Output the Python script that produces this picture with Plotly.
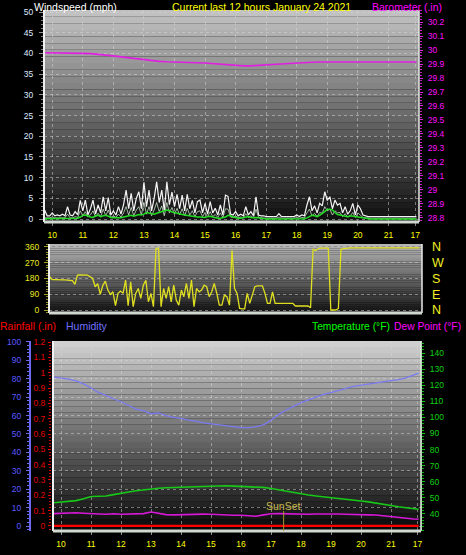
import plotly.graph_objects as go

# ---------------- data ----------------
# 5-minute samples starting at 9:45 (hour values)
T5_START = 9.75
T5_STEP = 5 / 60

wind_gust = [
    2.2, 0.8, 0.8,  # 9:45-9:55
    1.5, 0.8, 1.0, 0.8, 1.2, 0.8, 3.0, 1.0, 0.8, 1.8, 1.0, 4.5,  # 10
    2.0, 4.6, 1.0, 2.5, 4.6, 1.2, 3.4, 1.5, 5.4, 2.0, 5.2, 1.0,  # 11
    2.0, 1.0, 3.0, 1.2, 3.5, 7.0, 2.5, 6.2, 2.0, 5.0, 6.6, 2.5,  # 12
    8.9, 3.0, 7.0, 2.0, 5.0, 9.0, 4.0, 7.0, 2.0, 9.0, 3.5, 6.5,  # 13
    3.0, 6.0, 2.5, 5.8, 2.0, 6.0, 2.5, 4.5, 1.5, 4.2, 4.6, 1.5,  # 14
    3.8, 1.2, 4.2, 1.5, 2.6, 1.0, 3.4, 1.0, 5.8, 5.5, 1.2, 1.0,  # 15
    1.8, 0.8, 1.2, 0.8, 3.0, 1.0, 1.8, 0.8, 5.4, 1.0, 0.8, 0.8,  # 16
    0.6, 0.6, 0.6, 0.6, 0.6, 1.3, 0.6, 0.6, 0.6, 0.6, 0.6, 0.6,  # 17
    1.0, 0.6, 1.0, 0.8, 3.4, 5.4, 2.0, 3.2, 1.5, 3.8, 3.2, 6.6,  # 18
    4.5, 5.4, 2.5, 4.6, 3.4, 3.8, 1.5, 3.0, 1.2, 2.0, 3.8, 1.0,  # 19
    3.4, 2.5, 1.0, 0.8, 0.6, 0.6, 0.6, 0.6, 0.6, 0.6, 0.6, 0.6,  # 20
    0.6, 0.6, 0.6, 0.6, 0.6, 0.6, 0.6, 0.6, 0.6, 0.6, 0.6, 0.6,  # 21
]

wind_speed = [
    0.3, 0.3, 0.3,
    0.5, 0.3, 0.3, 0.3, 0.4, 0.3, 1.2, 0.3, 0.3, 0.6, 0.4, 2.0,
    0.8, 1.8, 0.5, 1.0, 2.0, 0.5, 1.4, 0.6, 2.4, 0.8, 2.2, 0.4,
    0.8, 0.4, 1.2, 0.5, 1.5, 3.0, 1.0, 2.8, 0.8, 2.2, 3.0, 1.0,
    4.0, 1.2, 3.0, 0.8, 2.2, 4.0, 1.8, 3.2, 0.8, 4.0, 1.5, 2.8,
    1.2, 2.6, 1.0, 2.5, 0.8, 2.6, 1.0, 2.0, 0.6, 1.8, 2.0, 0.6,
    1.6, 0.5, 1.8, 0.6, 1.1, 0.4, 1.5, 0.4, 2.5, 2.4, 0.5, 0.4,
    0.8, 0.3, 0.5, 0.3, 1.3, 0.4, 0.8, 0.3, 2.4, 0.4, 0.3, 0.2,
    0.2, 0.2, 0.2, 0.2, 0.2, 0.5, 0.2, 0.2, 0.2, 0.2, 0.2, 0.2,
    0.4, 0.2, 0.4, 0.3, 1.5, 2.4, 0.8, 1.4, 0.6, 1.6, 1.4, 3.0,
    2.0, 2.4, 1.0, 2.0, 1.5, 1.6, 0.6, 1.3, 0.5, 0.8, 1.6, 0.4,
    1.5, 1.0, 0.4, 0.3, 0.2, 0.2, 0.2, 0.2, 0.2, 0.2, 0.2, 0.2,
    0.2, 0.2, 0.2, 0.2, 0.2, 0.2, 0.2, 0.2, 0.2, 0.2, 0.2, 0.2,
]

wind_avg = [
    0.1, 0.1, 0.1,
    0.1, 0.1, 0.1, 0.1, 0.1, 0.1, 0.1, 0.1, 0.1, 0.1, 0.2, 0.5,
    0.9, 1.0, 0.7, 0.5, 0.4, 0.8, 0.9, 0.6, 0.8, 0.9, 0.7, 0.4,
    0.3, 0.3, 0.2, 0.3, 0.5, 0.6, 0.8, 0.9, 0.7, 0.9, 1.1, 1.0,
    1.2, 1.6, 1.5, 1.3, 1.2, 1.4, 1.6, 1.8, 1.9, 2.2, 2.1, 1.7,
    1.6, 1.4, 1.2, 1.1, 1.0, 0.9, 0.7, 0.6, 0.6, 0.5, 0.5, 0.4,
    0.4, 0.6, 0.7, 0.5, 0.3, 0.2, 0.2, 0.3, 0.5, 0.9, 0.8, 0.5,
    0.3, 0.2, 0.2, 0.3, 0.4, 0.6, 0.4, 0.3, 0.4, 0.3, 0.1, 0.0,
    0.0, 0.0, 0.0, 0.0, 0.0, 0.0, 0.0, 0.0, 0.0, 0.0, 0.0, 0.0,
    0.0, 0.0, 0.0, 0.1, 0.3, 0.7, 0.9, 0.8, 0.6, 0.9, 1.4, 1.9,
    2.3, 2.4, 2.2, 1.6, 1.1, 1.0, 0.9, 0.7, 0.6, 0.8, 0.7, 0.5,
    0.5, 0.4, 0.3, 0.2, 0.1, 0.0, 0.0, 0.0, 0.0, 0.0, 0.0, 0.0,
    0.0, 0.0, 0.0, 0.0, 0.0, 0.0, 0.0, 0.0, 0.0, 0.0, 0.0, 0.0,
]

wind_dir = [
    190, 174, 174,
    172, 172, 172, 172, 172, 172, 168, 146, 199, 200, 200, 198,  # 10
    199, 190, 180, 133, 150, 89, 140, 165, 114, 89, 104, 25,     # 11
    95, 108, 95, 171, 25, 161, 19, 95, 123, 66, 142, 170,        # 12
    47, 95, 19, 350, 354, 19, 123, 66, 133, 47, 142, 57,         # 13
    28, 114, 76, 152, 66, 171, 19, 123, 104, 114, 142, 133,      # 14
    76, 104, 152, 95, 28, 28, 85, 76, 28, 341, 123, 95,          # 15
    9, 6, 6, 95, 38, 85, 133, 138, 138, 138, 95, 38,             # 16
    38, 104, 38, 38, 38, 38, 38, 38, 38, 38, 23, 23,             # 17
    23, 23, 23, 23, 13, 347, 340, 350, 354, 354, 354, 354,       # 18
    0, 0, 0, 9, 347, 350, 350, 354, 355, 355, 355, 355,          # 19
    355, 355, 355, 355, 355, 355, 355, 355, 355, 355, 355, 355,  # 20
    355, 355, 355, 355, 355, 355, 355, 355, 355, 355, 355, 355,  # 21
]

# 15-minute samples starting at 9:45, last sample at 21:55
T15_START = 9.75
T15_STEP = 0.25
T15_LAST = 21.92

barometer = [
    29.980, 29.980, 29.979, 29.978, 29.977, 29.976, 29.974, 29.970, 29.965, 29.958,
    29.951, 29.944, 29.937, 29.930, 29.924, 29.919, 29.916, 29.913, 29.911, 29.910,
    29.909, 29.907, 29.903, 29.898, 29.892, 29.888, 29.887, 29.887, 29.889, 29.892,
    29.896, 29.900, 29.904, 29.908, 29.911, 29.913, 29.914, 29.914, 29.914, 29.914,
    29.914, 29.914, 29.914, 29.914, 29.914, 29.914, 29.914, 29.914, 29.914, 29.914,
]

humidity = [
    81.0, 80.5, 79.8, 78.8, 77.2, 75.0, 72.5, 71.0, 69.0, 67.5,
    65.5, 63.5, 62.5, 61.0, 61.5, 60.0, 59.0, 58.5, 57.5, 57.0,
    56.0, 55.5, 55.0, 54.5, 54.0, 53.5, 53.5, 54.0, 55.0, 57.5,
    60.5, 63.0, 65.0, 67.0, 68.5, 70.0, 71.5, 72.5, 73.8, 74.8,
    75.8, 76.5, 77.2, 77.8, 78.5, 79.0, 79.5, 80.5, 82.0, 83.0,
]

temperature = [
    47.0, 47.3, 47.8, 48.3, 49.5, 50.8, 51.0, 51.2, 52.0, 53.0,
    53.6, 54.4, 55.0, 55.5, 56.0, 56.3, 56.5, 56.7, 56.9, 57.0,
    57.1, 57.2, 57.3, 57.5, 57.3, 57.1, 57.0, 56.9, 56.5, 55.8,
    55.0, 54.0, 53.0, 52.4, 51.8, 51.2, 50.6, 50.1, 49.7, 49.2,
    48.5, 48.0, 47.5, 46.7, 45.8, 45.0, 44.5, 43.9, 43.2, 42.9,
]

dew_point = [
    40.2, 40.5, 40.8, 40.7, 40.4, 40.4, 40.0, 39.8, 40.1, 39.8,
    40.0, 39.8, 40.2, 41.2, 40.4, 39.6, 39.4, 39.6, 39.8, 39.7,
    39.9, 39.8, 39.5, 39.3, 39.2, 39.2, 39.0, 38.6, 39.4, 40.1,
    40.2, 40.0, 39.8, 39.9, 39.8, 40.0, 40.1, 40.2, 40.0, 39.8,
    39.8, 39.6, 39.4, 39.3, 38.8, 38.0, 37.6, 37.1, 36.9, 36.7,
]

rainfall = [0.0] * 50

SUNSET = 17.42

hour_ticks = [10, 11, 12, 13, 14, 15, 16, 17, 18, 19, 20, 21, 21.88]
hour_labels = ["10", "11", "12", "13", "14", "15", "16", "17", "18", "19", "20", "21", "17"]
dir_ticks = [0, 90, 180, 270, 360]
dir_labels = ["N", "E", "S", "W", "N"]

# ---------------- derived time axes ----------------
t5 = [T5_START + i * T5_STEP for i in range(len(wind_gust))]
t15 = [T15_START + i * T15_STEP for i in range(len(humidity) - 1)] + [T15_LAST]

W, H = 466, 555
XR = [9.73, 22.0]
FONT = "Liberation Sans"


def px_x(p):
    return p / W


def px_y(p):
    return 1 - p / H


fig = go.Figure()

# top chart traces
fig.add_trace(go.Scatter(x=t5, y=wind_speed, mode="lines", line=dict(color="rgba(205,235,205,0.75)", width=1),
                         xaxis="x", yaxis="y", hoverinfo="skip"))
fig.add_trace(go.Scatter(x=t5, y=wind_gust, mode="lines", line=dict(color="#f4f4f4", width=1.2),
                         xaxis="x", yaxis="y", hoverinfo="skip"))
fig.add_trace(go.Scatter(x=t5, y=wind_avg, mode="lines", line=dict(color="#22dd22", width=1.5),
                         xaxis="x", yaxis="y", hoverinfo="skip"))
fig.add_trace(go.Scatter(x=t15, y=barometer, mode="lines", line=dict(color="#e020e0", width=1.6),
                         xaxis="x", yaxis="y2", hoverinfo="skip"))
# middle chart
fig.add_trace(go.Scatter(x=t5, y=wind_dir, mode="lines", line=dict(color="#e0e020", width=1.3),
                         xaxis="x2", yaxis="y3", hoverinfo="skip"))
fig.add_trace(go.Scatter(x=[None], y=[None], xaxis="x2", yaxis="y4", hoverinfo="skip"))
# bottom chart
fig.add_trace(go.Scatter(x=t15, y=humidity, mode="lines", line=dict(color="#7b7bf2", width=1.3),
                         xaxis="x3", yaxis="y5", hoverinfo="skip"))
fig.add_trace(go.Scatter(x=t15, y=rainfall, mode="lines", line=dict(color="#ff0000", width=2.2),
                         xaxis="x3", yaxis="y6", hoverinfo="skip"))
fig.add_trace(go.Scatter(x=t15, y=temperature, mode="lines", line=dict(color="#18c818", width=1.6),
                         xaxis="x3", yaxis="y7", hoverinfo="skip"))
fig.add_trace(go.Scatter(x=t15, y=dew_point, mode="lines", line=dict(color="#d818d8", width=1.6),
                         xaxis="x3", yaxis="y7", hoverinfo="skip"))

# ---------------- backgrounds ----------------
shapes = []


def gradient(xd, yd, top, bot, n=32):
    for k in range(n):
        f = (k + 0.5) / n
        c = [int(round(bot[j] + (top[j] - bot[j]) * f)) for j in range(3)]
        shapes.append(dict(type="rect", xref=xd, yref=yd, x0=0, x1=1, y0=k / n, y1=(k + 1) / n,
                           fillcolor="rgb(%d,%d,%d)" % tuple(c), line=dict(width=0), layer="below"))


gradient("x domain", "y domain", (196, 196, 196), (14, 14, 14))
gradient("x2 domain", "y3 domain", (184, 184, 184), (18, 18, 18))
gradient("x3 domain", "y5 domain", (210, 210, 210), (6, 6, 6))

# frames
for xd, yd in [("x domain", "y domain"), ("x2 domain", "y3 domain"), ("x3 domain", "y5 domain")]:
    shapes.append(dict(type="line", xref=xd, yref=yd, x0=0, x1=0, y0=0, y1=1,
                       line=dict(color="#f0f0f0", width=2)))
    shapes.append(dict(type="line", xref=xd, yref=yd, x0=1, x1=1, y0=0, y1=1,
                       line=dict(color="#e8e8e8", width=1.5)))
    shapes.append(dict(type="line", xref=xd, yref=yd, x0=0, x1=1, y0=0, y1=0,
                       line=dict(color="#d0d8d0", width=3)))

# sunset marker
shapes.append(dict(type="line", xref="x3", yref="paper", x0=SUNSET, x1=SUNSET,
                   y0=px_y(531), y1=px_y(511), line=dict(color="#a89430", width=1)))

grid = dict(showgrid=True, gridcolor="rgba(215,215,215,0.5)", griddash="dot", gridwidth=1)
nm = dict(automargin=False)

fig.update_layout(
    width=W, height=H,
    margin=dict(l=0, r=0, t=0, b=0, autoexpand=False),
    paper_bgcolor="black", plot_bgcolor="rgba(0,0,0,0)",
    showlegend=False,
    font=dict(family=FONT, size=9, color="white"),
    shapes=shapes,
    xaxis=dict(domain=[px_x(44), px_x(419)], anchor="y", range=XR, tickvals=hour_ticks, ticktext=hour_labels,
               tickfont=dict(color="#ffff00", size=8.5), ticks="outside", ticklen=3, tickcolor="#808080",
               ticklabelstandoff=2, zeroline=False, **grid, **nm),
    yaxis=dict(domain=[px_y(222), px_y(10)], anchor="x", range=[-0.7, 50.5], tickvals=list(range(0, 51, 5)),
               tickfont=dict(color="#dde8ff", size=8.5), ticks="outside", ticklen=4, tickcolor="#909090",
               minor=dict(dtick=1, ticklen=2, tickcolor="#808080", ticks="outside", showgrid=False),
               ticklabelstandoff=4, zeroline=False, **grid, **nm),
    yaxis2=dict(overlaying="y", anchor="x", side="right", range=[28.771, 30.286],
                tickvals=[28.8, 28.9, 29.0, 29.1, 29.2, 29.3, 29.4, 29.5, 29.6, 29.7, 29.8, 29.9, 30.0, 30.1, 30.2],
                ticktext=["28.8", "28.9", "29", "29.1", "29.2", "29.3", "29.4", "29.5", "29.6", "29.7", "29.8",
                          "29.9", "30", "30.1", "30.2"],
                tickfont=dict(color="#ff10ff", size=8.5), ticks="outside", ticklen=3, tickcolor="#e020e0",
                minor=dict(dtick=0.02, ticklen=2, tickcolor="#c020c0", ticks="outside", showgrid=False),
                ticklabelstandoff=3, showgrid=False, zeroline=False, **nm),
    xaxis2=dict(domain=[px_x(49), px_x(422)], anchor="y3", range=XR, showticklabels=False,
                tickvals=hour_ticks[:-1], ticks="", zeroline=False, showgrid=False, **nm),
    yaxis3=dict(domain=[px_y(313), px_y(244)], anchor="x2", range=[-17, 377], tickvals=dir_ticks,
                tickfont=dict(color="#e8e820", size=8.5), ticks="outside", ticklen=4, tickcolor="#a0a020",
                minor=dict(dtick=15, ticklen=2, tickcolor="#909020", ticks="outside", showgrid=False),
                ticklabelstandoff=3, zeroline=False, **grid, **nm),
    yaxis4=dict(overlaying="y3", anchor="x2", side="right", range=[-17, 377], tickvals=dir_ticks,
                ticktext=dir_labels, tickfont=dict(color="#f0f020", size=12.5), ticks="",
                ticklabelstandoff=9, showgrid=False, zeroline=False, **nm),
    xaxis3=dict(domain=[px_x(53), px_x(421)], anchor="y5", range=XR, tickvals=hour_ticks, ticktext=hour_labels,
                tickfont=dict(color="#ffff00", size=8.5), ticks="outside", ticklen=3, tickcolor="#909090",
                ticklabelstandoff=2, zeroline=False, **grid, **nm),
    yaxis5=dict(domain=[px_y(531), px_y(341)], anchor="free", position=px_x(30), side="left",
                range=[-2.7, 100.5], dtick=10, tickfont=dict(color="#5a5aff", size=8.5),
                showline=True, linecolor="#6a6af0", linewidth=2, ticks="outside", ticklen=3,
                tickcolor="#6a6af0",
                minor=dict(dtick=2, ticklen=2, tickcolor="#6a6af0", ticks="outside", showgrid=False),
                ticklabelstandoff=3, zeroline=False, **grid, **nm),
    yaxis6=dict(overlaying="y5", anchor="free", position=px_x(51), side="left", range=[-0.033, 1.207],
                dtick=0.1, tickformat="~g", tickfont=dict(color="#e00000", size=8.5),
                showline=False, ticks="outside", ticklen=3, tickcolor="#e00000",
                minor=dict(dtick=0.02, ticklen=2, tickcolor="#d00000", ticks="outside", showgrid=False),
                ticklabelstandoff=1, showgrid=False, zeroline=False, **nm),
    yaxis7=dict(overlaying="y5", anchor="x3", side="right", range=[29.4, 147.5], tickvals=list(range(40, 141, 10)),
                tickfont=dict(color="#10d010", size=8.5), showline=True, linecolor="#10b010", linewidth=1,
                ticks="outside", ticklen=3, tickcolor="#10c010",
                minor=dict(dtick=2, ticklen=2, tickcolor="#10b010", ticks="outside", showgrid=False),
                ticklabelstandoff=3, showgrid=False, zeroline=False, **nm),
)

HDR = 10.3
ann = [
    dict(text="Windspeed (mph)", x=px_x(33), y=px_y(7), color="#ffffff", xanchor="left", size=10.5),
    dict(text="Current last 12 hours January 24 2021", x=px_x(261), y=px_y(7), color="#ffff00",
         xanchor="center", size=10.5),
    dict(text="Barometer (.in)", x=px_x(371), y=px_y(7), color="#ff00ff", xanchor="left", size=10.5),
    dict(text="Rainfall (.in)", x=px_x(-1), y=px_y(326), color="#ff0000", xanchor="left", size=10.5),
    dict(text="Humidity", x=px_x(65), y=px_y(326), color="#7070ff", xanchor="left", size=10.5),
    dict(text="Temperature (°F)", x=px_x(311), y=px_y(326), color="#00ff00", xanchor="left", size=HDR),
    dict(text="Dew Point (°F)", x=px_x(393), y=px_y(326), color="#ff00ff", xanchor="left", size=HDR),
]
for a in ann:
    fig.add_annotation(text=a["text"], xref="paper", yref="paper", x=a["x"], y=a["y"], xanchor=a["xanchor"],
                       yanchor="middle", showarrow=False, borderpad=0,
                       font=dict(family=FONT, size=a["size"], color=a["color"]))

fig.add_annotation(text="SunSet", xref="x3", yref="paper", x=SUNSET, y=px_y(506), xanchor="center",
                   yanchor="middle", showarrow=False, font=dict(family=FONT, size=10.5, color="#c8b848"))

fig.write_html(
    "out.html",
    config={"displayModeBar": False},
    post_script="document.body.style.margin='0px';document.body.style.background='black';",
)
